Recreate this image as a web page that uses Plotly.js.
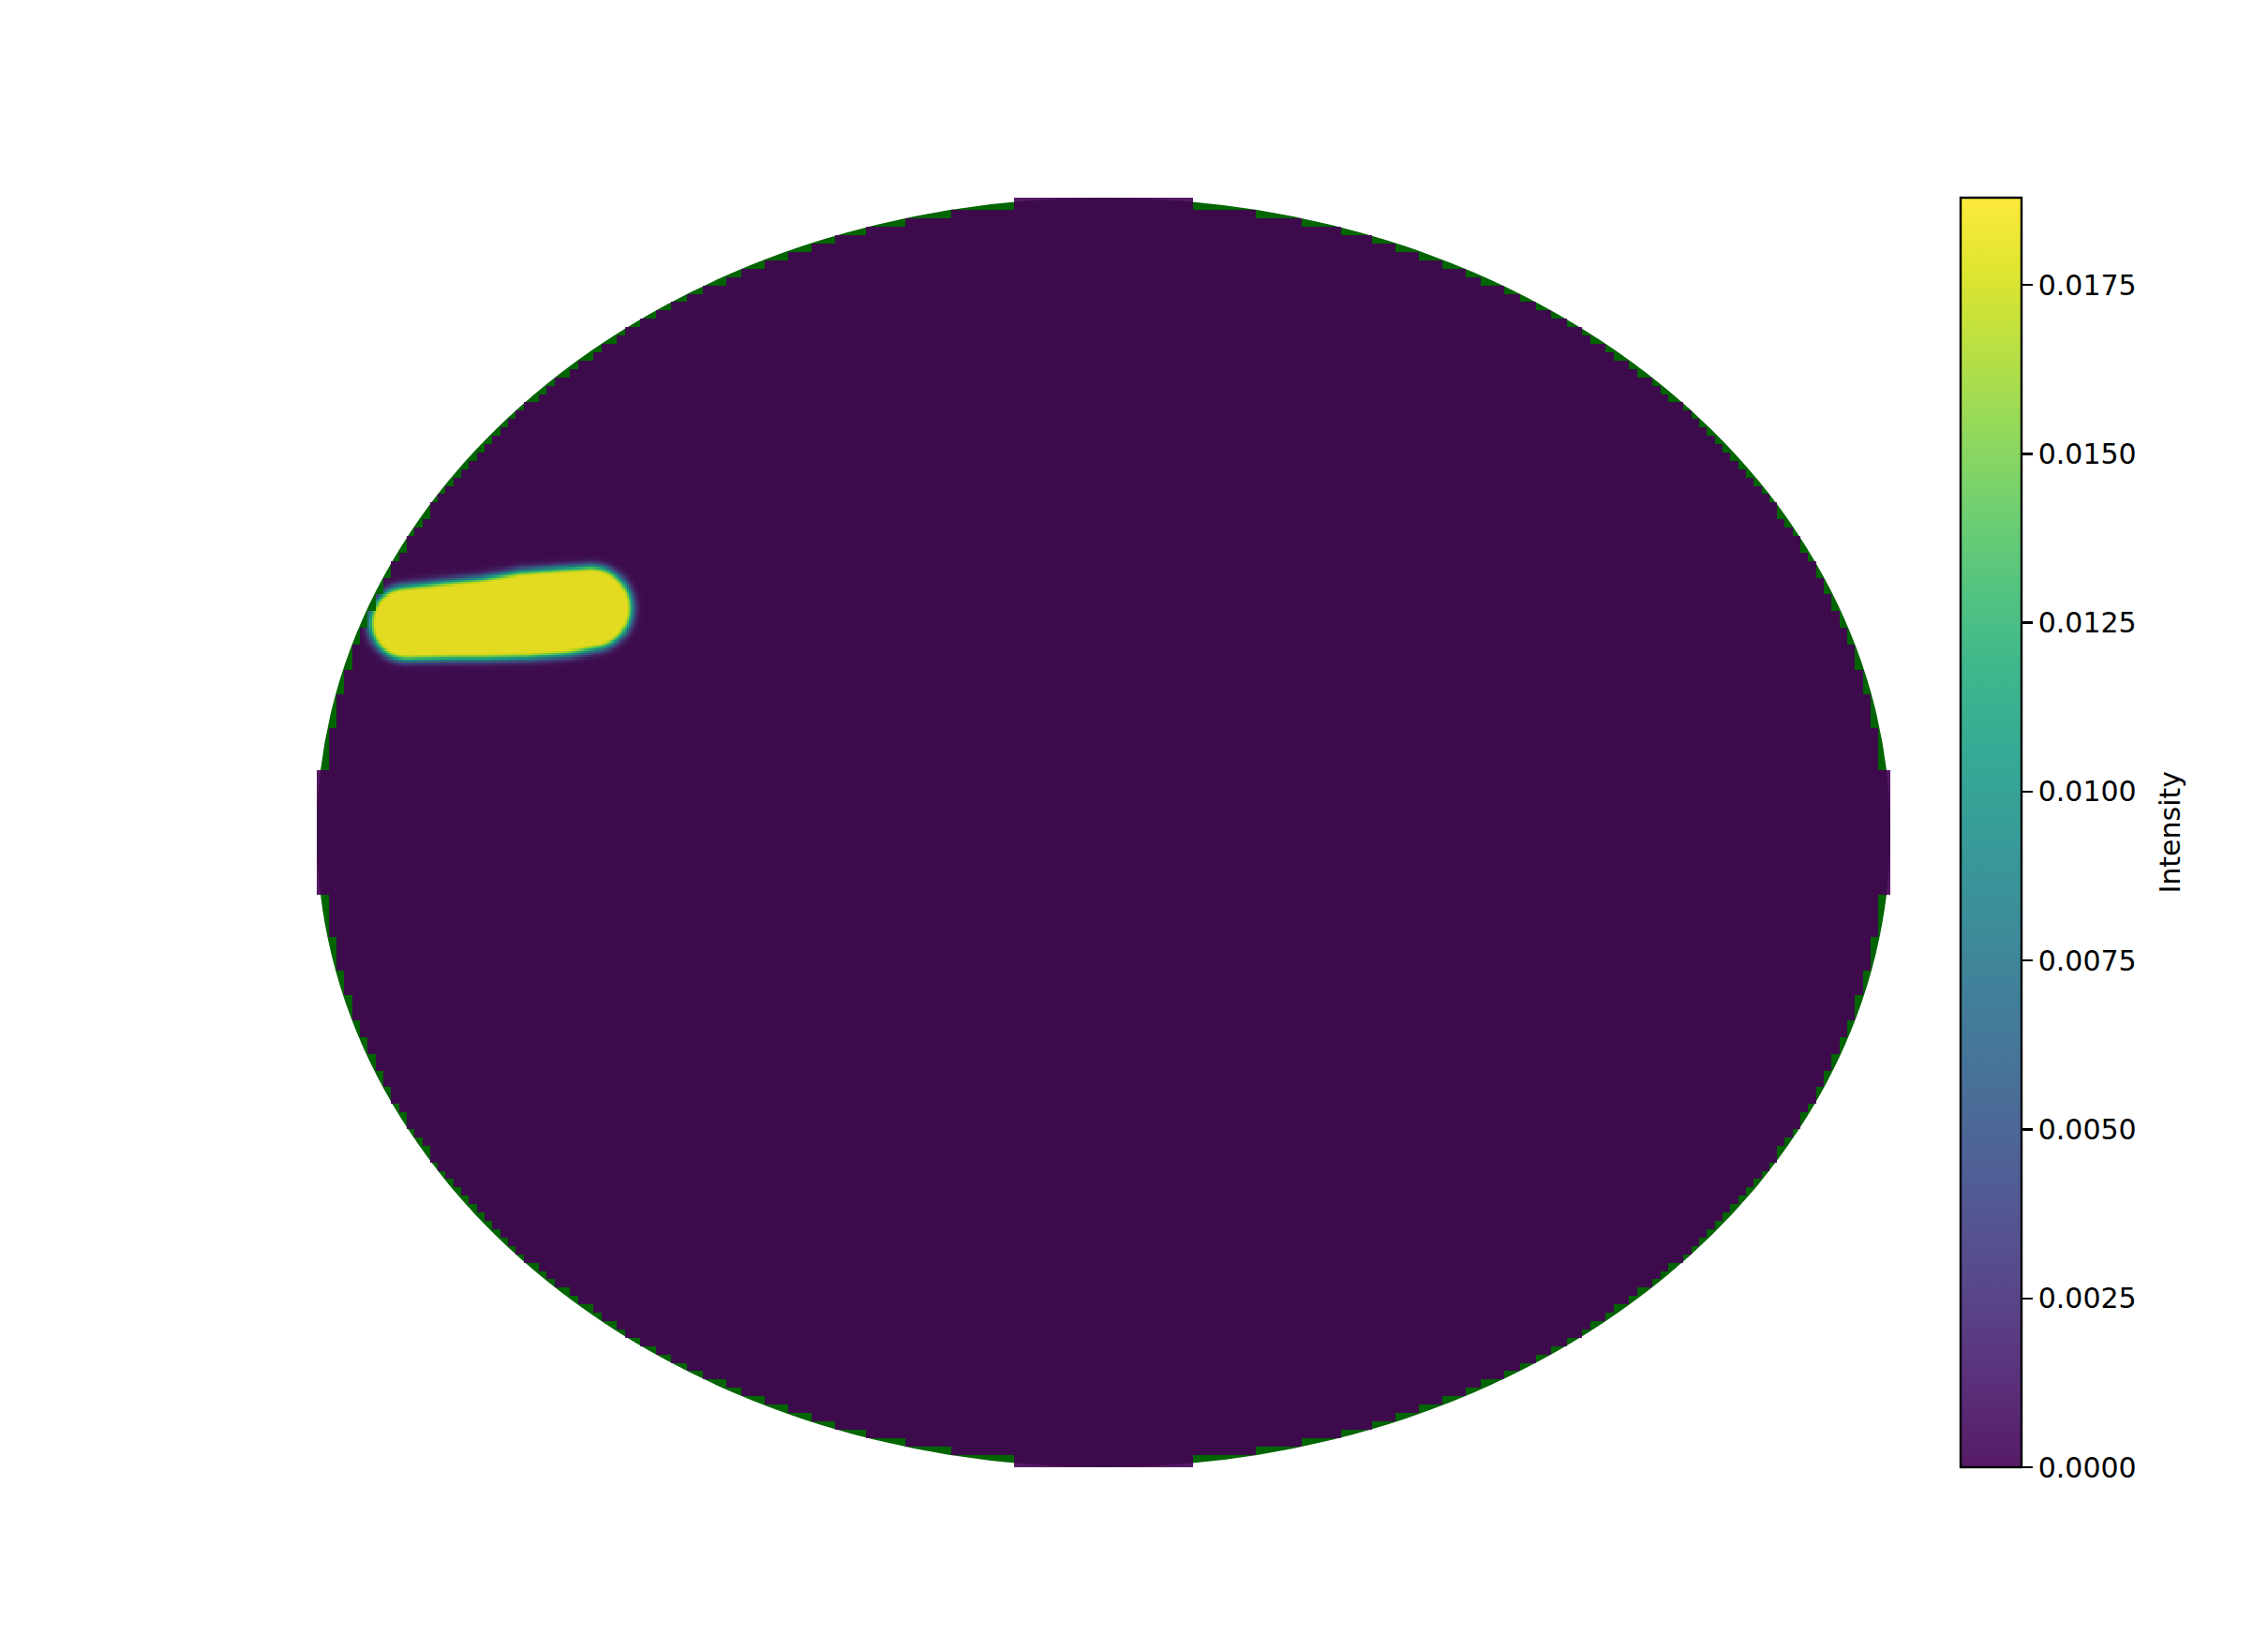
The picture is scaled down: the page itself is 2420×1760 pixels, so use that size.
<!DOCTYPE html>
<html><head><meta charset="utf-8">
<script src="https://cdn.plot.ly/plotly-3.0.1.min.js"></script>
<style>html,body{margin:0;padding:0;background:#fff}</style>
</head><body><div id="chart" style="width:2420px;height:1760px"></div>
<script>
// ---- data ----
const intensityMax = 0.01879;               // top of the colour bar
const gridCols = 201;                        // pixels of the masked field, across
const gridRows = 151;                        // pixels of the masked field, down
const domainRadius = 1.0;                    // circular domain
// yellow streak: centre line, half-widths and edge fall-off (domain units)
const blobX = [-0.8857, -0.8309, -0.7832, -0.7356, -0.6879, -0.6522];
const blobY = [0.3299, 0.3343, 0.3373, 0.3432, 0.3476, 0.3535];
const blobHalfWidth = [0.0487, 0.0517, 0.0546, 0.0590, 0.0590, 0.0561];
const blobFalloff = 0.0118;
const colorbarTicks = [0, 0.0025, 0.005, 0.0075, 0.01, 0.0125, 0.015, 0.0175];
const colorbarTitle = 'Intensity';

// ---- rendering of the pixel grid (outer pixels drawn stretched, as in the reference) ----
const SUB = 4;
const insetX = 0.0054, insetY = 0.0066;
function displayEdges(n, inset) {
  const e = [];
  for (let k = 0; k <= n; k++) e.push(-(1 - inset) + k * (2 - 2 * inset) / n);
  e[0] = -1; e[n] = 1;
  const sub = [];
  for (let k = 0; k < n; k++) for (let s = 0; s < SUB; s++) sub.push(e[k] + s * (e[k + 1] - e[k]) / SUB);
  sub.push(1);
  return sub;
}
const xEdges = displayEdges(gridCols, insetX);
const yEdges = displayEdges(gridRows, insetY);
const nx = gridCols * SUB, ny = gridRows * SUB;
const aspect = 1679 / 1355;

const z = [];
for (let j = 0; j < ny; j++) {
  const row = new Array(nx);
  const y = (yEdges[j] + yEdges[j + 1]) / 2;
  const yc = -1 + (Math.floor(j / SUB) + 0.5) * 2 / gridRows;
  for (let i = 0; i < nx; i++) {
    const xc = -1 + (Math.floor(i / SUB) + 0.5) * 2 / gridCols;
    if (xc * xc + yc * yc > domainRadius * domainRadius) { row[i] = null; continue; }
    const x = (xEdges[i] + xEdges[i + 1]) / 2;
    const px = x * aspect, py = y;
    let best = Infinity;
    for (let k = 0; k < blobX.length - 1; k++) {
      const ax = blobX[k] * aspect, ay = blobY[k];
      const bx = blobX[k + 1] * aspect, by = blobY[k + 1];
      const vx = bx - ax, vy = by - ay;
      let t = ((px - ax) * vx + (py - ay) * vy) / (vx * vx + vy * vy);
      t = Math.max(0, Math.min(1, t));
      const qx = ax + t * vx - px, qy = ay + t * vy - py;
      const d = Math.sqrt(qx * qx + qy * qy) - (blobHalfWidth[k] + t * (blobHalfWidth[k + 1] - blobHalfWidth[k]));
      if (d < best) best = d;
    }
    row[i] = best <= 0 ? intensityMax : intensityMax * Math.exp(-Math.pow(best / blobFalloff, 2));
  }
  z.push(row);
}

// viridis with alpha 0.9
const viridisHex = ['#440154','#48186a','#472d7b','#424086','#3b528b','#33638d','#2c728e','#26828e',
  '#21918c','#1fa088','#28ae80','#3fbc73','#5ec962','#84d44b','#addc30','#d8e219','#fde725'];
const colorscale = viridisHex.map((h, k) => {
  const r = parseInt(h.slice(1,3),16), g = parseInt(h.slice(3,5),16), b = parseInt(h.slice(5,7),16);
  return [k / (viridisHex.length - 1), `rgba(${r},${g},${b},0.9)`];
});

const font = {family: 'DejaVu Sans, sans-serif', size: 30, color: '#000'};

const trace = {
  type: 'heatmap', z: z, x: xEdges, y: yEdges,
  zmin: 0, zmax: intensityMax, zsmooth: false,
  colorscale: colorscale, hoverinfo: 'skip',
  colorbar: {
    x: (2092 - 338) / 1679, xanchor: 'left', xref: 'paper', xpad: 0,
    y: 0.5, yanchor: 'middle', ypad: 0, len: 1, lenmode: 'fraction',
    thickness: 65, outlinewidth: 2.4, outlinecolor: '#000',
    tickvals: colorbarTicks, tickformat: '.4f', ticks: 'outside',
    ticklen: 11, tickwidth: 2.4, tickcolor: '#000', tickfont: font,
    title: {text: ''}
  }
};

const layout = {
  width: 2420, height: 1760,
  margin: {l: 338, r: 403, t: 211, b: 194, pad: 0},
  paper_bgcolor: '#fff', plot_bgcolor: 'rgba(0,0,0,0)',
  showlegend: false,
  xaxis: {range: [-1, 1], visible: false, fixedrange: true},
  yaxis: {range: [-1, 1], visible: false, fixedrange: true},
  shapes: [{type: 'circle', xref: 'x', yref: 'y', x0: -domainRadius, x1: domainRadius,
            y0: -domainRadius, y1: domainRadius, fillcolor: '#006400',
            line: {width: 0}, layer: 'below'}],
  annotations: [{text: colorbarTitle, xref: 'paper', yref: 'paper',
                 x: (2315 - 338) / 1679, y: 0.5, xanchor: 'center', yanchor: 'middle',
                 textangle: -90, showarrow: false, font: font}]
};

Plotly.newPlot('chart', [trace], layout, {displayModeBar: false, staticPlot: true});
</script></body></html>
